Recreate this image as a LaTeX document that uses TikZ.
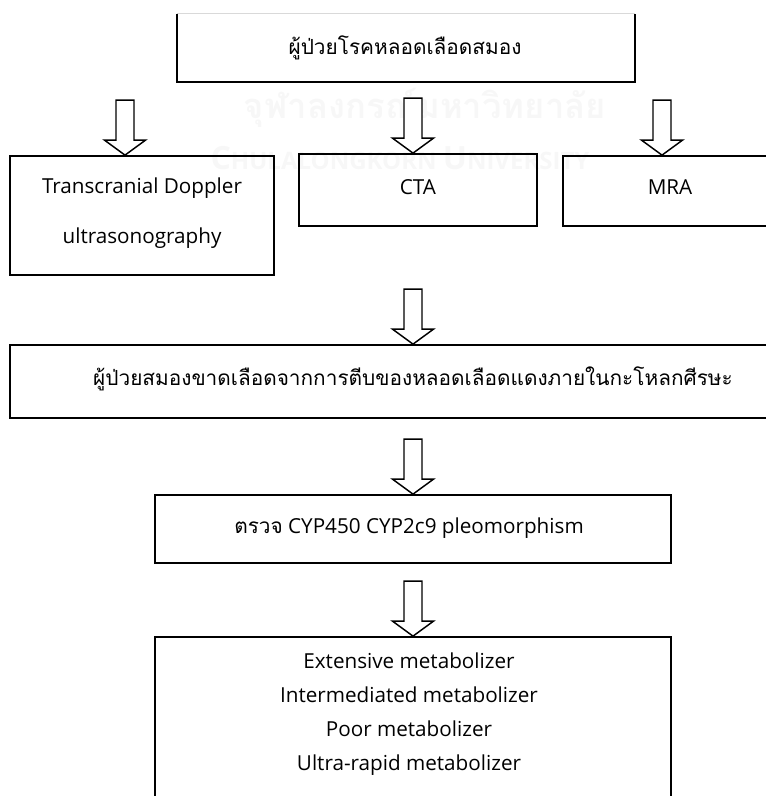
\documentclass[tikz,border=0pt]{standalone}
\usepackage{fontspec}
\setmainfont{Open Sans}
\newfontfamily\thai[Script=Thai]{Loma}
\begin{document}
\begin{tikzpicture}[x=0.75pt,y=-0.75pt,
  box/.style={draw=black,line width=1.3pt,rectangle,inner sep=0pt},
  lbl/.style={inner sep=0pt,align=center,font=\fontsize{15.5pt}{25.5pt}\selectfont},
  thlbl/.style={inner sep=0pt,align=center,font=\thai\fontsize{15.6pt}{18pt}\selectfont},
  wm/.style={text=black!3,inner sep=0pt},
  arr/.style={draw=black,line width=1.1pt,line join=miter,fill=white}]
\useasboundingbox (0,0) rectangle (766,796);
% watermark
\node[wm,font=\thai\bfseries\fontsize{26pt}{26pt}\selectfont] (wm1) at (425,108) {จุฬาลงกรณ์มหาวิทยาลัย};
\node[wm,font=\bfseries\fontsize{24pt}{24pt}\selectfont] (wm2) at (400,158) {C\fontsize{18pt}{18pt}\selectfont HULALONGKORN \fontsize{24pt}{24pt}\selectfont U\fontsize{18pt}{18pt}\selectfont NIVERSITY};
% boxes
\node[rectangle,inner sep=0pt,minimum width=458*0.75pt,minimum height=68*0.75pt] (top) at (406,48) {};
\draw[black!15,line width=0.6pt] (top.north west) -- (top.north east);
\draw[black,line width=1.3pt] (top.north west) -- (top.south west) -- (top.south east) -- (top.north east);
\node[thlbl] (ttop) at (405,48) {ผู้ป่วยโรคหลอดเลือดสมอง};

\node[box,minimum width=264*0.75pt,minimum height=119*0.75pt] (tcd) at (142,215.5) {};
\node[lbl,font=\fontsize{15.5pt}{37pt}\selectfont] (ttcd) at (142,213) {Transcranial Doppler\\ultrasonography};

\node[box,minimum width=238*0.75pt,minimum height=72*0.75pt] (cta) at (418,190) {};
\node[lbl] (tcta) at (418,187) {CTA};

\node[box,minimum width=214*0.75pt,minimum height=70*0.75pt] (mra) at (670,191) {};
\node[lbl] (tmra) at (670,187) {MRA};

\node[box,minimum width=806*0.75pt,minimum height=73*0.75pt] (isch) at (413,381.5) {};
\node[thlbl] (tisch) at (413,379) {ผู้ป่วยสมองขาดเลือดจากการตีบของหลอดเลือดแดงภายในกะโหลกศีรษะ};

\node[box,minimum width=516*0.75pt,minimum height=68*0.75pt] (cyp) at (413,529) {};
\node[lbl] (tcyp) at (409,528) {{\thai\fontsize{15.6pt}{18pt}\selectfont ตรวจ} CYP450 CYP2c9 pleomorphism};

\node[box,minimum width=516*0.75pt,minimum height=200*0.75pt] (met) at (413,737) {};
\node[lbl] (tmet) at (409,714) {Extensive metabolizer\\Intermediated metabolizer\\Poor metabolizer\\Ultra-rapid metabolizer};

% hollow block arrows: tip at target
\newcommand{\hollowarrow}[1]{%
  \draw[arr] #1 -- ++(-20.5,-15) -- ++(11.5,0) -- ++(0,-40) -- ++(18,0) -- ++(0,40) -- ++(11.5,0) -- cycle;}
\hollowarrow{(125,0 |- tcd.north)}
\hollowarrow{(413,0 |- cta.north)}
\hollowarrow{(662,0 |- mra.north)}
\hollowarrow{(413,0 |- isch.north)}
\hollowarrow{(413,0 |- cyp.north)}
\hollowarrow{(413,0 |- met.north)}
\end{tikzpicture}
\end{document}
